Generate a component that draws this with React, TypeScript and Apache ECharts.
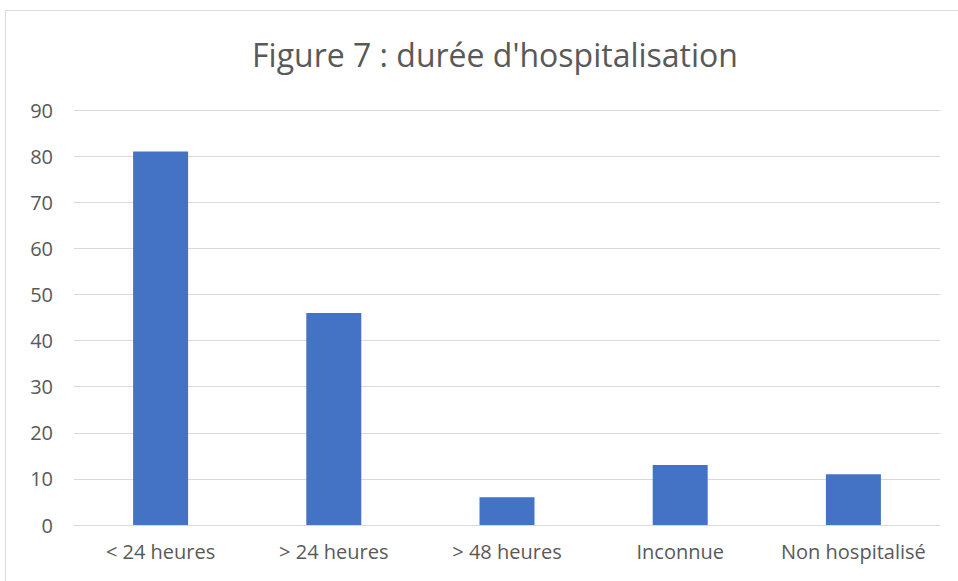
import React, { useEffect, useRef } from "react";
import * as echarts from "echarts";

const categories = ["< 24 heures", "> 24 heures", "> 48 heures", "Inconnue", "Non hospitalisé"];
const values = [81, 46, 6, 13, 11];
const titleText = "Figure 7 : durée d'hospitalisation";

export default function App() {
  const ref = useRef<HTMLDivElement>(null);
  useEffect(() => {
    if (!ref.current) return;
    const chart = echarts.init(ref.current, null, { renderer: "svg" });
    const font = "'Open Sans', sans-serif";
    chart.setOption({
      animation: false,
      backgroundColor: "#ffffff",
      textStyle: { fontFamily: font },
      title: {
        text: titleText,
        left: 490,
        top: 33,
        textAlign: "center",
        textStyle: { fontFamily: font, fontSize: 32, fontWeight: "normal", color: "#595959" },
      },
      graphic: [
        {
          type: "rect",
          shape: { x: 5.5, y: 10.5, width: 980, height: 600 },
          style: { fill: "none", stroke: "#D9D9D9", lineWidth: 1 },
          silent: true,
        },
      ],
      grid: { left: 74, right: 18, top: 110, bottom: 56 },
      xAxis: {
        type: "category",
        data: categories,
        axisLine: { show: true, lineStyle: { color: "#D9D9D9", width: 1 } },
        axisTick: { show: false },
        axisLabel: { color: "#595959", fontSize: 20, fontFamily: font, margin: 16, interval: 0, hideOverlap: false },
      },
      yAxis: {
        type: "value",
        min: 0,
        max: 90,
        interval: 10,
        axisLine: { show: false },
        axisTick: { show: false },
        splitLine: { lineStyle: { color: "#D9D9D9", width: 1 } },
        axisLabel: { color: "#595959", fontSize: 20, fontFamily: font, margin: 21 },
      },
      series: [
        {
          type: "bar",
          data: values,
          barWidth: 55,
          itemStyle: { color: "#4472C4" },
        },
      ],
    });
    return () => chart.dispose();
  }, []);
  return <div ref={ref} style={{ position: "fixed", left: 0, top: 0, width: 958, height: 581 }} />;
}
